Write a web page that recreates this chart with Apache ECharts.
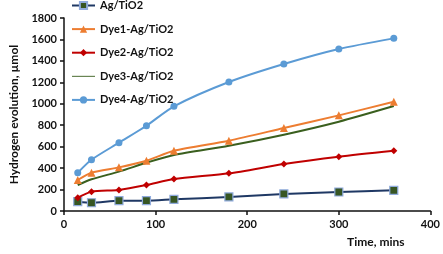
<!DOCTYPE html>
<html><head><meta charset="utf-8">
<script src="https://cdn.jsdelivr.net/npm/echarts@6/dist/echarts.min.js"></script>
<style>html,body{margin:0;padding:0;background:#fff}#c{width:443px;height:254px}</style>
</head><body><div id="c"></div>
<script>
const times = [15, 30, 60, 90, 120, 180, 240, 300, 360];
const agTiO2 = [87, 77, 96, 96, 109, 131, 159, 177, 193];
const dye1 = [289, 357, 407, 469, 562, 656, 774, 892, 1019];
const dye2 = [124, 180, 196, 242, 298, 351, 438, 507, 562];
const dye3 = [242, 296, 367, 450, 522, 609, 712, 833, 979];
const dye4 = [357, 478, 637, 795, 976, 1203, 1371, 1511, 1610];
const names = ['Ag/TiO2', 'Dye1-Ag/TiO2', 'Dye2-Ag/TiO2', 'Dye3-Ag/TiO2', 'Dye4-Ag/TiO2'];
const xTitle = 'Time, mins';
const yTitle = 'Hydrogen evolution, µmol';

const pair = arr => times.map((t, i) => [t, arr[i]]);
const font = 'Lato, "Liberation Sans", sans-serif';
const txt = { fontFamily: font, fontWeight: 'bold', fontSize: 11, color: '#111' };
const ttl = Object.assign({}, txt, { fontSize: 12 });
function mk(name, data, color, symbol, size, fill, border) {
  return {
    name, type: 'line', data: pair(data), smooth: 0.25,
    symbol, symbolSize: size, showSymbol: symbol !== 'none',
    lineStyle: { color, width: 2 },
    itemStyle: { color: fill || color, borderColor: border || fill || color, borderWidth: border ? 1.2 : 0 },
    z: 2
  };
}
const chart = echarts.init(document.getElementById('c'));
chart.setOption({
  animation: false,
  title: { text: xTitle, left: 347, top: 236, padding: 0, textStyle: ttl },
  grid: { left: 57, right: 10, top: 18, bottom: 43 },
  legend: {
    orient: 'vertical', left: 71, top: 0, padding: 0, itemGap: 12.6, itemWidth: 23, itemHeight: 9,
    textStyle: txt,
    data: names.map((n, i) => i === 3
      ? { name: n, icon: 'path://M0,0L0,0M0,10L100,10L100,14L0,14ZM100,24L100,24' }
      : { name: n })
  },
  xAxis: {
    type: 'value', min: 0, max: 400, interval: 100,
    axisLine: { lineStyle: { color: '#111', width: 1.5 } },
    axisTick: { show: true, length: 4, lineStyle: { color: '#111', width: 1.5 } },
    axisLabel: Object.assign({ margin: 8 }, txt),
    splitLine: { show: false }
  },
  yAxis: {
    type: 'value', min: 0, max: 1800, interval: 200,
    name: yTitle, nameLocation: 'middle', nameGap: 44,
    nameTextStyle: ttl,
    axisLine: { show: true, lineStyle: { color: '#111', width: 1.5 } },
    axisTick: { show: true, length: 4, lineStyle: { color: '#111', width: 1.5 } },
    axisLabel: Object.assign({ margin: 7, formatter: v => String(v) }, txt),
    splitLine: { show: false }
  },
  series: [
    mk(names[0], agTiO2, '#1F3864', 'rect', 8, '#375623', '#8FAADC'),
    mk(names[1], dye1, '#ED7D31', 'triangle', 8),
    mk(names[2], dye2, '#C00000', 'diamond', 7),
    mk(names[3], dye3, '#3A5F1E', 'none', 0),
    mk(names[4], dye4, '#5B9BD5', 'circle', 7)
  ]
});
</script></body></html>
